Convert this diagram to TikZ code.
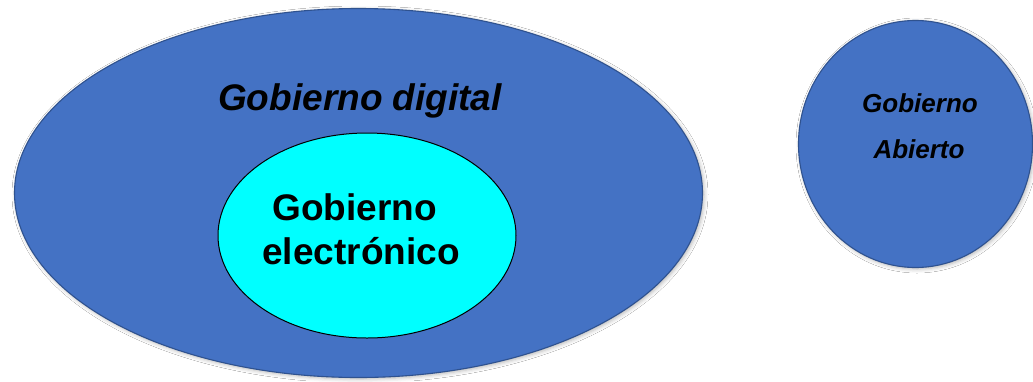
\documentclass[tikz,border=0pt]{standalone}
\usepackage{fontspec}
\setmainfont{Liberation Sans}
\usetikzlibrary{shapes.geometric,shadows.blur}
\definecolor{ppblue}{HTML}{4472C4}
\definecolor{ppedge}{HTML}{2F528F}
\definecolor{ppcyan}{HTML}{00FFFF}
\tikzset{
  bigell/.style={ellipse, draw=ppedge, line width=1.1pt, fill=ppblue, inner sep=0pt,
    blur shadow={shadow xshift=1.5pt, shadow yshift=-1.5pt, shadow blur radius=4pt, shadow opacity=30}},
  innerell/.style={ellipse, draw=black, line width=1pt, fill=ppcyan, inner sep=0pt},
  lbl/.style={anchor=base, inner sep=0pt, font=\bfseries},
}
\begin{document}
\begin{tikzpicture}[x=1pt,y=-1pt]
\useasboundingbox (0,0) rectangle (1033,381);
\fill[white] (0,0) rectangle (1033,381);
\node[bigell, minimum width=688pt, minimum height=369pt] (dig) at (358.5,193) {};
\node[bigell, minimum width=234pt, minimum height=247pt] (abi) at (915.5,144) {};
\node[innerell, minimum width=298pt, minimum height=205pt] (ele) at (367,235.5) {};
\node[lbl, font=\bfseries\itshape\fontsize{37}{44}\selectfont] (tdig) at (360,110) {Gobierno digital};
\node[lbl, font=\bfseries\fontsize{37}{44}\selectfont] (tele1) at (354.5,220) {Gobierno};
\node[lbl, font=\bfseries\fontsize{37}{44}\selectfont] (tele2) at (361,264) {electrónico};
\node[lbl, font=\bfseries\itshape\fontsize{26}{30}\selectfont] (tabi1) at (920,112) {Gobierno};
\node[lbl, font=\bfseries\itshape\fontsize{26}{30}\selectfont] (tabi2) at (919,158) {Abierto};
\end{tikzpicture}
\end{document}
